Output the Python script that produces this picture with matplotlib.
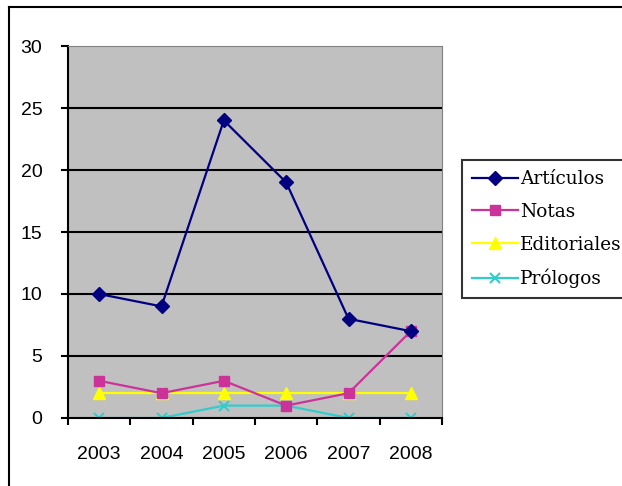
import matplotlib
matplotlib.use("Agg")
import matplotlib.pyplot as plt
from matplotlib.lines import Line2D

years = ["2003", "2004", "2005", "2006", "2007", "2008"]
articulos = [10, 9, 24, 19, 8, 7]
notas = [3, 2, 3, 1, 2, 7]
editoriales = [2, 2, 2, 2, 2, 2]
prologos = [0, 0, 1, 1, 0, 0]

W, H = 622, 486
fig = plt.figure(figsize=(W / 100, H / 100), dpi=100)
fig.patch.set_facecolor("white")

ax = fig.add_axes([68 / W, 1 - 418 / H, (442 - 68) / W, (418 - 46) / H])
ax.set_facecolor("#C0C0C0")

x = list(range(len(years)))
ax.plot(x, articulos, color="#000080", marker="D", markersize=7, lw=1.6, label="Artículos", zorder=5)
ax.plot(x, notas, color="#CC3399", marker="s", markersize=7, lw=1.6, label="Notas", zorder=4)
ax.plot(x, editoriales, color="#FFFF00", marker="^", markersize=9, lw=1.6, label="Editoriales", zorder=3)
ax.plot(x, prologos, color="#33CCCC", marker="x", markersize=7, mew=1.5, lw=1.6, label="Prólogos", zorder=2)

ax.set_ylim(0, 30)
ax.set_xlim(-0.5, len(years) - 0.5)
ax.set_yticks(range(0, 31, 5))
for yv in range(5, 30, 5):
    ax.axhline(yv, color="black", lw=1.5, zorder=1)

ax.set_xticks([i - 0.5 for i in range(len(years) + 1)])
ax.set_xticklabels([])
ax.set_xticks(x, minor=True)
ax.set_xticklabels(years, minor=True)
ax.tick_params(axis="x", which="minor", length=0, pad=20)
ax.tick_params(axis="x", which="major", length=5, width=1.5, direction="out")
ax.tick_params(axis="y", length=5, width=1.5, direction="out", pad=13.5)
for lbl in ax.get_xticklabels(minor=True) + ax.get_yticklabels():
    lbl.set_fontfamily("Liberation Sans")
    lbl.set_fontsize(14)

ax.spines["left"].set_color("black")
ax.spines["left"].set_linewidth(1.5)
ax.spines["bottom"].set_color("black")
ax.spines["bottom"].set_linewidth(1.5)
ax.spines["top"].set_color("#808080")
ax.spines["right"].set_color("#808080")

leg = ax.legend(loc="upper left", bbox_to_anchor=(462 / W, 1 - 160 / H),
                bbox_transform=fig.transFigure, borderaxespad=0,
                frameon=True, fancybox=False, edgecolor="black",
                prop={"family": "DejaVu Serif", "size": 13.3},
                handlelength=2.5, handletextpad=0.1, labelspacing=0.8,
                borderpad=0.55, markerscale=1.0)
leg.get_frame().set_linewidth(1.5)

fig.add_artist(Line2D([8.5 / W, 8.5 / W], [0, 1 - 7.5 / H], transform=fig.transFigure, color="black", lw=1.5))
fig.add_artist(Line2D([8.5 / W, 1], [1 - 7.5 / H, 1 - 7.5 / H], transform=fig.transFigure, color="black", lw=1.5))

fig.savefig("out.png", dpi=100)
